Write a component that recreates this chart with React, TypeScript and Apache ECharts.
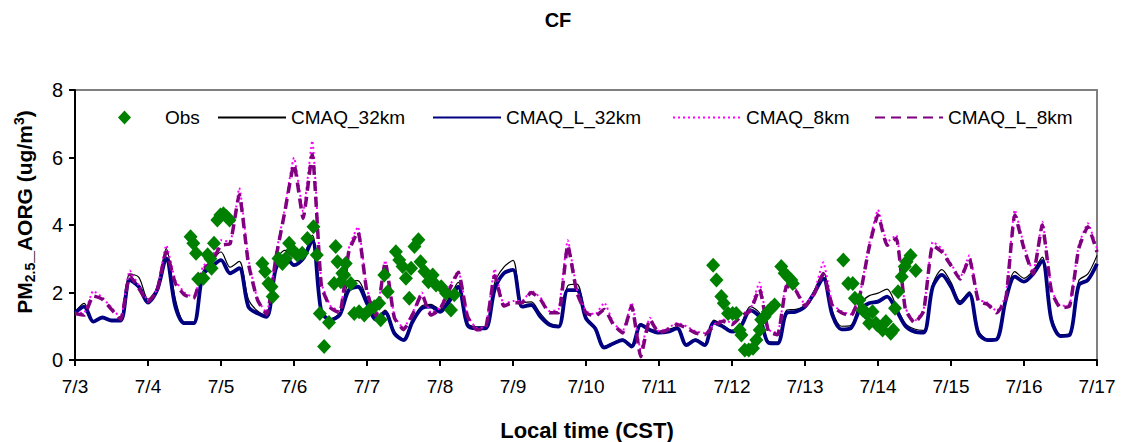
import React, { useEffect, useRef } from "react";
import * as echarts from "echarts";

// ---- data (model values every 3 hours from 7/3 00:00, hour 0 .. 336) ----
const STEP_HOURS = 3;
const dayLabels = ["7/3", "7/4", "7/5", "7/6", "7/7", "7/8", "7/9", "7/10", "7/11", "7/12", "7/13", "7/14", "7/15", "7/16", "7/17"];
const seriesNames = ["Obs", "CMAQ_32km", "CMAQ_L_32km", "CMAQ_8km", "CMAQ_L_8km"];

const cmaq32km = [
  1.42, 1.68, 1.16, 1.28, 1.19, 1.18, 2.55, 2.45,
  1.80, 2.15, 3.30, 1.80, 1.12, 1.12, 2.60, 2.95,
  3.20, 2.75, 2.92, 1.80, 1.45, 1.30, 2.90, 3.25,
  3.05, 3.10, 3.70, 1.50, 1.22, 1.40, 2.30, 2.35,
  1.80, 1.25, 1.48, 0.85, 0.62, 1.20, 1.60, 1.65,
  1.50, 1.85, 2.30, 1.10, 0.98, 0.98, 2.30, 2.75,
  2.95, 1.70, 1.72, 1.38, 1.10, 1.02, 2.20, 2.25,
  1.30, 0.98, 0.40, 0.52, 0.62, 0.45, 1.08, 0.92,
  0.85, 0.90, 0.98, 0.48, 0.62, 0.48, 1.18, 1.03,
  0.88, 1.08, 1.58, 1.40, 0.55, 0.53, 1.48, 1.50,
  1.62, 2.05, 2.60, 1.45, 1.00, 1.02, 1.65, 1.90,
  1.98, 2.10, 1.60, 1.08, 0.92, 0.88, 2.25, 2.68,
  2.30, 1.75, 2.02, 0.88, 0.62, 0.64, 1.90, 2.62,
  2.42, 2.65, 3.05, 1.30, 0.75, 0.78, 2.35, 2.55,
  3.10,
];

const cmaqL32km = [
  1.40, 1.58, 1.14, 1.26, 1.17, 1.17, 2.37, 2.17,
  1.70, 2.07, 3.01, 1.58, 1.09, 1.09, 2.52, 2.77,
  2.96, 2.57, 2.72, 1.58, 1.38, 1.28, 2.70, 3.10,
  2.81, 3.00, 3.55, 1.43, 1.19, 1.33, 2.07, 2.17,
  1.68, 1.20, 1.40, 0.79, 0.59, 1.14, 1.53, 1.58,
  1.43, 1.73, 2.17, 1.04, 0.94, 0.94, 2.10, 2.57,
  2.67, 1.58, 1.63, 1.28, 1.04, 0.99, 2.07, 2.07,
  1.23, 0.94, 0.37, 0.49, 0.59, 0.40, 1.04, 0.89,
  0.81, 0.84, 0.94, 0.44, 0.59, 0.44, 1.11, 0.99,
  0.84, 1.01, 1.48, 1.28, 0.51, 0.49, 1.40, 1.43,
  1.58, 1.98, 2.42, 1.33, 0.91, 0.94, 1.48, 1.68,
  1.73, 1.88, 1.48, 1.01, 0.84, 0.81, 2.17, 2.52,
  2.17, 1.68, 1.96, 0.79, 0.59, 0.61, 1.78, 2.47,
  2.32, 2.55, 2.94, 1.19, 0.71, 0.74, 2.22, 2.37,
  2.85,
];

const cmaq8km = [
  1.40, 1.40, 2.05, 1.85, 1.55, 1.25, 2.65, 2.20,
  1.78, 2.10, 3.40, 2.35, 2.00, 1.85, 2.75, 3.05,
  3.55, 3.50, 5.10, 3.00, 1.80, 1.40, 3.10, 4.50,
  6.00, 4.40, 6.50, 2.30, 1.60, 1.45, 3.30, 3.95,
  2.10, 1.35, 2.95, 1.30, 0.95, 1.40, 2.00, 1.40,
  1.55, 2.15, 2.65, 1.35, 0.95, 0.98, 2.70, 1.65,
  1.75, 1.75, 2.05, 1.85, 1.45, 1.50, 3.55, 2.10,
  1.45, 1.35, 1.70, 1.10, 0.85, 1.70, 0.30, 1.25,
  0.85, 0.95, 1.10, 1.00, 0.85, 0.80, 1.05, 1.20,
  1.10, 1.35, 1.50, 2.30, 0.90, 0.80, 2.30, 2.10,
  1.65, 2.00, 2.90, 1.65, 1.45, 1.35, 1.95, 3.40,
  4.45, 3.50, 3.70, 1.55, 1.15, 1.50, 3.50, 3.30,
  2.85, 2.45, 3.10, 1.80, 1.70, 1.45, 1.90, 4.45,
  3.40, 2.60, 4.10, 2.10, 1.60, 1.65, 3.40, 4.05,
  3.30,
];

const cmaqL8km = [
  1.38, 1.33, 1.90, 1.80, 1.50, 1.20, 2.50, 2.12,
  1.73, 2.07, 3.20, 2.27, 1.93, 1.83, 2.67, 2.91,
  3.40, 3.45, 4.90, 2.86, 1.78, 1.35, 3.00, 4.40,
  5.80, 4.20, 6.10, 2.20, 1.55, 1.40, 3.20, 3.80,
  2.00, 1.30, 2.90, 1.25, 0.90, 1.35, 1.95, 1.33,
  1.50, 2.07, 2.60, 1.30, 0.90, 0.94, 2.50, 1.60,
  1.70, 1.70, 2.00, 1.80, 1.40, 1.40, 3.40, 2.00,
  1.40, 1.30, 1.50, 1.05, 0.80, 1.60, 0.10, 1.20,
  0.80, 0.90, 1.05, 0.95, 0.80, 0.75, 1.00, 1.15,
  1.05, 1.30, 1.45, 2.10, 0.85, 0.75, 2.20, 2.05,
  1.60, 1.95, 2.55, 1.60, 1.40, 1.30, 1.90, 3.30,
  4.30, 3.40, 3.60, 1.50, 1.10, 1.45, 3.40, 3.20,
  2.80, 2.40, 3.00, 1.75, 1.65, 1.40, 1.80, 4.30,
  3.30, 2.55, 4.00, 2.05, 1.55, 1.60, 3.30, 3.95,
  3.20,
];

// observations: [hour since 7/3 00:00, value]
const obsPoints: [number, number][] = [
  [38.0, 3.65], [38.9, 3.46], [39.8, 3.16], [40.5, 2.40], [42.2, 2.42], [43.6, 3.12], [44.5, 3.0],
  [44.9, 2.72], [45.7, 3.46], [46.8, 4.15], [47.8, 4.30], [48.8, 4.33], [49.8, 4.25], [50.8, 4.15],
  [61.6, 2.86], [62.5, 2.62], [63.6, 2.27], [64.6, 2.17], [65.0, 1.88], [66.9, 3.01],
  [68.2, 2.86], [69.3, 3.01], [70.4, 3.46], [71.5, 3.26], [73.1, 3.11], [74.7, 3.16], [76.4, 3.60],
  [78.4, 3.95], [79.5, 3.11], [80.5, 1.38], [81.9, 0.40], [83.5, 1.11], [85.2, 2.27], [85.7, 3.36],
  [86.3, 2.91], [87.4, 2.32], [87.9, 2.57], [88.5, 2.52], [89.0, 2.86], [90.7, 2.27], [91.8, 1.38],
  [93.4, 1.43], [95.1, 1.33], [96.7, 1.48], [98.4, 1.58], [100.0, 1.68], [100.5, 1.19], [101.7, 2.52],
  [102.8, 2.02], [105.5, 3.21], [106.6, 2.96], [107.7, 2.77], [108.8, 2.42], [109.9, 1.83],
  [110.5, 2.72], [111.6, 3.36], [112.9, 3.56], [113.6, 2.91], [114.9, 2.62], [116.2, 2.32],
  [117.6, 2.52], [118.7, 2.22], [120.4, 2.17], [122.0, 1.98], [123.6, 1.48], [124.7, 1.93],
  [209.8, 2.81], [210.9, 2.37], [212.5, 1.88], [213.3, 1.68], [214.7, 1.38], [216.2, 1.38],
  [217.4, 1.38], [218.5, 0.89], [219.1, 0.74], [220.2, 0.30], [221.5, 0.30], [222.9, 0.35],
  [224.0, 0.59], [225.1, 0.89], [225.6, 1.19], [226.7, 1.28], [227.8, 1.43], [228.9, 1.53],
  [230.0, 1.63], [232.2, 2.77], [233.3, 2.57], [234.4, 2.47], [235.5, 2.37], [236.0, 2.27],
  [252.6, 2.96], [254.2, 2.27], [255.7, 2.27], [256.4, 1.83], [257.9, 1.78], [259.0, 1.48],
  [259.7, 1.43], [260.3, 1.38], [261.1, 1.09], [262.2, 1.43], [263.3, 1.09], [263.8, 1.04],
  [265.5, 0.89], [266.6, 1.14], [268.2, 0.79], [269.0, 0.89], [269.6, 1.53], [270.6, 2.02],
  [271.8, 2.47], [272.8, 2.77], [273.4, 2.91], [274.7, 3.10], [276.4, 2.65],
];

const FONT = "'Liberation Sans', Arial, Helvetica, sans-serif";

const toXY = (vals: number[]) => vals.map((v, i) => [i * STEP_HOURS, v]);

export default function App() {
  const ref = useRef<HTMLDivElement>(null);

  useEffect(() => {
    if (!ref.current) return;
    const chart = echarts.init(ref.current, undefined, { renderer: "svg" });

    const legendText = { fontSize: 19, color: "#000", fontFamily: FONT };
    const lineLegend = (name: string, left: number) => ({
      top: 108,
      left,
      itemWidth: 68,
      itemHeight: 14,
      padding: 0,
      selectedMode: false,
      data: [name],
      itemStyle: { color: "transparent", borderColor: "transparent", opacity: 0 },
      textStyle: legendText,
    });

    const option: any = {
      animation: false,
      backgroundColor: "#fff",
      grid: {
        left: 75,
        top: 90,
        right: 27,
        bottom: 82,
        show: true,
        borderColor: "#808080",
        borderWidth: 2,
        backgroundColor: "transparent",
      },
      xAxis: {
        type: "value",
        min: 0,
        max: 336,
        interval: 24,
        axisLine: { show: true, onZero: false, lineStyle: { color: "#000", width: 2 } },
        axisTick: { show: true, length: 6, lineStyle: { color: "#000", width: 2 } },
        axisLabel: {
          formatter: (v: number) => dayLabels[Math.round(v / 24)] ?? "",
          fontSize: 19,
          color: "#000",
          fontFamily: FONT,
          margin: 17,
        },
        splitLine: { show: false },
      },
      yAxis: {
        type: "value",
        min: 0,
        max: 8,
        interval: 2,
        axisLine: { show: true, lineStyle: { color: "#000", width: 2 } },
        axisTick: { show: true, length: 6, lineStyle: { color: "#000", width: 2 } },
        axisLabel: { fontSize: 20, color: "#000", fontFamily: FONT, margin: 12 },
        splitLine: { show: false },
      },
      legend: [
        {
          top: 108,
          left: 118,
          itemWidth: 13,
          itemHeight: 14,
          padding: 0,
          selectedMode: false,
          data: [seriesNames[0]],
          itemStyle: { opacity: 1 },
          textStyle: { ...legendText, padding: [0, 0, 0, 29] },
        },
        lineLegend(seriesNames[1], 217),
        lineLegend(seriesNames[2], 432),
        lineLegend(seriesNames[3], 672),
        lineLegend(seriesNames[4], 874),
      ],
      series: [
        {
          name: "Obs",
          type: "scatter",
          data: obsPoints,
          symbol: "diamond",
          symbolSize: [14, 15],
          itemStyle: { color: "#008000", opacity: 1 },
          z: 6,
        },
        {
          name: "CMAQ_32km",
          type: "line",
          data: toXY(cmaq32km),
          symbol: "none",
          smooth: 0.3,
          lineStyle: { color: "#000", width: 1.2 },
          itemStyle: { color: "#000" },
          z: 2,
        },
        {
          name: "CMAQ_L_32km",
          type: "line",
          data: toXY(cmaqL32km),
          symbol: "none",
          smooth: 0.3,
          lineStyle: { color: "#000080", width: 3.8 },
          itemStyle: { color: "#000080" },
          z: 3,
        },
        {
          name: "CMAQ_8km",
          type: "line",
          data: toXY(cmaq8km),
          symbol: "none",
          smooth: 0.15,
          lineStyle: { color: "#FF00FF", width: 2, type: [2, 3] },
          itemStyle: { color: "#FF00FF" },
          z: 4,
        },
        {
          name: "CMAQ_L_8km",
          type: "line",
          data: toXY(cmaqL8km),
          symbol: "none",
          smooth: 0.15,
          lineStyle: { color: "#800080", width: 3.5, type: [10, 6] },
          itemStyle: { color: "#800080" },
          z: 5,
        },
      ],
      graphic: [
        {
          type: "text",
          x: 558,
          y: 20,
          style: {
            text: "CF",
            fill: "#000",
            font: `bold 20px ${FONT}`,
            align: "center",
            verticalAlign: "middle",
          },
        },
        {
          type: "text",
          x: 587,
          y: 430,
          style: {
            text: "Local time (CST)",
            fill: "#000",
            font: `bold 22px ${FONT}`,
            align: "center",
            verticalAlign: "middle",
          },
        },
        {
          type: "text",
          x: 24,
          y: 212,
          rotation: Math.PI / 2,
          style: {
            text: "{m|PM}{s|2.5}{m|_AORG (ug/m}{p|3}{m|)}",
            align: "center",
            verticalAlign: "middle",
            rich: {
              m: { fontSize: 21, fontWeight: "bold", fontFamily: FONT, fill: "#000", lineHeight: 25 },
              s: { fontSize: 14, fontWeight: "bold", fontFamily: FONT, fill: "#000", lineHeight: 14, verticalAlign: "bottom" },
              p: { fontSize: 14, fontWeight: "bold", fontFamily: FONT, fill: "#000", lineHeight: 14, verticalAlign: "top" },
            },
          },
        },
      ],
    };

    chart.setOption(option);
    return () => chart.dispose();
  }, []);

  return (
    <div
      ref={ref}
      style={{ position: "absolute", left: 0, top: 0, width: 1124, height: 442 }}
    />
  );
}
